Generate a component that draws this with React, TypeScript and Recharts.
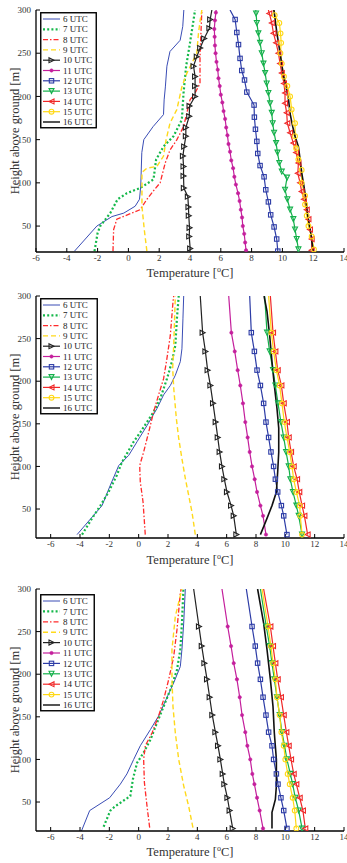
import React from 'react';
import { LineChart, Line, XAxis, YAxis, Legend, Label } from 'recharts';

type Pt = [number, number]; // [temperature °C, height above ground m]

const SERIF = '"Liberation Serif", "Times New Roman", "DejaVu Serif", serif';

// ---------- tick labels ----------
const X_TICKS = [-6, -4, -2, 0, 2, 4, 6, 8, 10, 12, 14];
const Y_TICKS = [50, 100, 150, 200, 250, 300];

// ---------- series names ----------
const SERIES_NAMES = ['6 UTC', '7 UTC', '8 UTC', '9 UTC', '10 UTC', '11 UTC', '12 UTC', '13 UTC', '14 UTC', '15 UTC', '16 UTC'];

// ---------- panel 1 ----------
const P1_06: Pt[] = [[-3.5, 21], [-2.05, 50], [-1.07, 61], [-0.3, 65], [0.44, 73], [0.72, 81], [0.8, 96], [0.87, 135], [1.0, 150], [1.6, 165], [2.28, 179], [2.32, 196], [2.4, 211], [2.5, 235], [2.7, 252], [3.36, 265], [3.53, 281], [3.6, 300]];
const P1_07: Pt[] = [[-2.2, 21], [-2.0, 42], [-1.83, 50], [-1.18, 65], [-0.7, 81], [-0.1, 88], [0.77, 94], [1.63, 104], [1.8, 127], [2.28, 142], [2.93, 154], [3.47, 173], [3.58, 204], [3.75, 235], [4.0, 262], [4.33, 300]];
const P1_08: Pt[] = [[-1.0, 21], [-0.96, 46], [-0.75, 58], [-0.2, 62], [0.77, 69], [1.2, 81], [1.68, 92], [2.06, 100], [2.39, 123], [2.7, 138], [3.15, 150], [3.58, 165], [4.0, 196], [4.33, 204], [4.65, 215], [4.65, 246], [4.77, 300]];
const P1_09: Pt[] = [[1.2, 21], [1.03, 46], [0.88, 73], [0.88, 112], [1.2, 117], [1.85, 119], [2.28, 131], [2.45, 150], [2.7, 169], [3.15, 185], [3.47, 211], [3.8, 227], [4.44, 250], [4.55, 273], [4.66, 288], [4.77, 300]];
const P1_10: Pt[] = [[4.01, 24], [3.95, 38], [3.97, 48], [3.92, 62], [3.9, 72], [3.86, 84], [3.6, 94], [3.58, 108], [3.58, 119], [3.54, 131], [3.62, 142], [3.73, 154], [3.73, 164], [3.95, 177], [3.97, 189], [4.33, 200], [4.33, 212], [4.33, 223], [4.23, 235], [4.44, 246], [4.66, 256], [4.92, 267], [5.26, 279], [5.31, 289], [5.42, 300]];
const P1_11: Pt[] = [[7.64, 22], [7.58, 31], [7.52, 41], [7.43, 50], [7.38, 60], [7.3, 69], [7.22, 79], [7.12, 88], [6.98, 98], [6.88, 107], [6.8, 117], [6.68, 126], [6.6, 136], [6.5, 145], [6.43, 155], [6.35, 164], [6.28, 174], [6.18, 183], [6.1, 193], [6.0, 202], [5.93, 212], [5.85, 221], [5.8, 231], [5.72, 240], [5.66, 250], [5.62, 259], [5.6, 269], [5.58, 278], [5.62, 288], [5.68, 297], [5.7, 300]];
const P1_12: Pt[] = [[9.7, 21], [9.63, 35], [9.46, 49], [9.24, 63], [9.09, 78], [8.92, 92], [8.81, 107], [8.55, 120], [8.4, 134], [8.34, 148], [8.25, 162], [8.18, 176], [8.16, 190], [7.69, 205], [7.54, 219], [7.36, 230], [7.25, 244], [7.15, 260], [7.04, 274], [6.93, 289], [6.6, 300]];
const P1_13: Pt[] = [[11.04, 23], [10.93, 35], [10.82, 46], [10.71, 58], [10.5, 69], [10.32, 81], [10.17, 92], [10.3, 106], [9.96, 113], [9.8, 123], [9.68, 135], [9.59, 146], [9.46, 158], [9.37, 169], [9.31, 181], [9.2, 192], [9.09, 204], [8.98, 215], [8.88, 227], [8.77, 238], [8.66, 250], [8.55, 262], [8.44, 273], [8.34, 285], [8.29, 296], [8.27, 300]];
const P1_14: Pt[] = [[11.9, 22], [11.9, 35], [11.79, 46], [11.69, 58], [11.58, 69], [11.4, 81], [11.25, 90], [11.15, 100], [11.0, 111], [11.04, 123], [10.89, 135], [10.71, 146], [10.5, 158], [10.32, 169], [10.28, 181], [10.17, 192], [10.17, 204], [10.1, 215], [9.96, 227], [9.85, 238], [9.74, 250], [9.59, 262], [9.42, 273], [9.31, 285], [9.15, 296], [9.09, 300]];
const P1_15: Pt[] = [[12.05, 23], [11.9, 38], [11.69, 50], [11.58, 62], [11.47, 75], [11.47, 85], [11.25, 100], [11.25, 115], [11.04, 127], [10.89, 140], [10.82, 154], [10.82, 169], [10.6, 185], [10.5, 200], [10.32, 212], [10.1, 223], [9.96, 238], [9.87, 250], [9.92, 262], [9.88, 273], [9.8, 285], [9.5, 294], [9.42, 300]];
const P1_16: Pt[] = [[12.0, 21], [11.84, 42], [11.62, 65], [11.53, 81], [11.4, 96], [11.25, 112], [11.15, 127], [11.04, 142], [10.82, 154], [10.67, 165], [10.5, 180], [10.4, 196], [10.25, 210], [10.06, 225], [9.85, 250], [9.63, 275], [9.45, 300]];

// ---------- panel 2 ----------
const P2_LEVELS = [20, 42, 54, 70, 85, 100, 117, 134, 152, 174, 195, 213, 235, 257, 300];
const P2_T10 = [6.66, 6.48, 6.3, 6.02, 5.84, 5.68, 5.52, 5.39, 5.25, 5.07, 4.89, 4.7, 4.55, 4.36, 4.2];
const P2_T11 = [8.68, 8.48, 8.3, 8.07, 7.91, 7.73, 7.57, 7.43, 7.27, 7.11, 6.93, 6.75, 6.55, 6.32, 6.14];
const P2_T12 = [10.11, 9.89, 9.73, 9.48, 9.32, 9.2, 9.02, 8.86, 8.68, 8.52, 8.3, 8.07, 7.89, 7.68, 7.57];
const P2_T13 = [11.14, 10.91, 10.75, 10.52, 10.34, 10.23, 10.05, 9.89, 9.7, 9.5, 9.32, 9.16, 8.93, 8.75, 8.59];
const P2_T14 = [11.52, 11.3, 11.14, 10.95, 10.8, 10.57, 10.39, 10.23, 10.11, 9.89, 9.73, 9.48, 9.32, 9.16, 8.98];
const P2_T15 = [11.14, 11.02, 10.98, 10.75, 10.57, 10.45, 10.3, 10.11, 9.93, 9.77, 9.61, 9.39, 9.2, 9.05, 8.86];
const P2_06: Pt[] = [[-4.2, 20], [-2.5, 54], [-1.93, 78], [-1.36, 101], [-0.68, 113], [-0.11, 129], [0.57, 148], [1.25, 168], [1.7, 184], [2.16, 195], [2.5, 207], [2.84, 223], [2.95, 238], [3.02, 274], [3.07, 300]];
const P2_07: Pt[] = [[-3.86, 20], [-3.18, 39], [-2.61, 54], [-2.05, 70], [-1.48, 90], [-1.14, 105], [-0.8, 115], [-0.34, 129], [0.11, 140], [0.57, 152], [1.02, 164], [1.48, 180], [1.93, 203], [2.27, 223], [2.5, 242], [2.61, 274], [2.73, 300]];
const P2_08: Pt[] = [[0.45, 20], [0.3, 58], [0.11, 82], [0.07, 101], [0.34, 117], [0.68, 140], [1.02, 164], [1.36, 184], [1.7, 203], [1.93, 227], [2.16, 254], [2.34, 293], [2.39, 300]];
const P2_09: Pt[] = [[3.86, 20], [3.64, 46], [3.41, 66], [3.18, 86], [2.95, 109], [2.73, 133], [2.57, 156], [2.39, 192], [2.32, 215], [2.39, 242], [2.5, 300]];
const P2_16: Pt[] = [[8.3, 20], [8.75, 39], [9.09, 54], [9.39, 70], [9.48, 94], [9.55, 117], [9.55, 145], [9.43, 168], [9.25, 195], [9.09, 223], [8.93, 254], [8.75, 282], [8.55, 300]];

// ---------- panel 3 ----------
const P3_LEVELS = [19, 40, 55, 71, 83, 100, 116, 132, 152, 173, 194, 213, 233, 256, 300];
const P3_T10 = [6.41, 6.2, 6.05, 5.84, 5.73, 5.57, 5.41, 5.23, 5.02, 4.84, 4.66, 4.48, 4.3, 4.11, 3.75];
const P3_T11 = [8.48, 8.25, 8.07, 7.89, 7.75, 7.61, 7.41, 7.27, 7.05, 6.89, 6.7, 6.48, 6.3, 6.07, 5.68];
const P3_T12 = [10.11, 9.89, 9.7, 9.5, 9.39, 9.2, 9.09, 8.86, 8.68, 8.48, 8.3, 8.11, 7.95, 7.73, 7.34];
const P3_T13 = [11.14, 10.91, 10.68, 10.5, 10.34, 10.11, 9.95, 9.77, 9.61, 9.43, 9.25, 9.09, 8.93, 8.7, 8.3];
const P3_T14 = [11.36, 11.2, 10.98, 10.75, 10.57, 10.39, 10.23, 10.07, 9.89, 9.7, 9.48, 9.32, 9.16, 8.98, 8.52];
const P3_T15 = [10.75, 10.64, 10.5, 10.3, 10.16, 10.0, 9.89, 9.73, 9.61, 9.43, 9.32, 9.16, 9.02, 8.82, 8.41];
const P3_06: Pt[] = [[-3.9, 16], [-3.34, 40], [-1.98, 55], [-1.25, 71], [-0.8, 83], [-0.34, 100], [0.11, 116], [0.8, 135], [1.36, 151], [1.86, 170], [2.39, 190], [2.84, 209], [2.95, 229], [3.07, 260], [3.18, 300]];
const P3_07: Pt[] = [[-2.39, 21], [-1.93, 40], [-1.6, 45], [-0.57, 57], [-0.39, 77], [-0.11, 96], [0.34, 108], [0.8, 123], [1.25, 143], [1.7, 162], [2.16, 182], [2.61, 205], [2.84, 229], [2.95, 260], [3.05, 300]];
const P3_08: Pt[] = [[0.75, 20], [0.57, 45], [0.39, 73], [0.34, 100], [0.45, 116], [0.91, 131], [1.36, 151], [1.7, 170], [2.05, 194], [2.39, 221], [2.61, 252], [2.84, 295], [2.9, 300]];
const P3_09: Pt[] = [[3.7, 20], [3.41, 45], [3.07, 69], [2.73, 100], [2.5, 131], [2.34, 162], [2.27, 194], [2.27, 229], [2.5, 268], [2.95, 300]];
const P3_16: Pt[] = [[9.09, 19], [9.09, 38], [9.2, 45], [9.32, 53], [9.39, 69], [9.39, 100], [9.25, 131], [9.16, 162], [8.98, 194], [8.75, 229], [8.52, 260], [8.11, 300]];

// ---------- styles (kept separate from data) ----------
type Mk = 'none' | 'triR' | 'dot' | 'square' | 'triD' | 'triL' | 'circle';
interface Sty { color: string; width: number; dash?: string; marker: Mk; }
const STYLES: Sty[] = [
  { color: '#3a4db5', width: 1, marker: 'none' },
  { color: '#14b84a', width: 2.2, dash: '2 2.2', marker: 'none' },
  { color: '#ff2b2b', width: 1.3, dash: '5 2 1.5 2', marker: 'none' },
  { color: '#ffd91a', width: 1.4, dash: '5 3', marker: 'none' },
  { color: '#222222', width: 1.2, marker: 'triR' },
  { color: '#c41f9c', width: 1.2, marker: 'dot' },
  { color: '#2d3ca6', width: 1.2, marker: 'square' },
  { color: '#13b04a', width: 1.2, marker: 'triD' },
  { color: '#f02828', width: 1.2, marker: 'triL' },
  { color: '#ffd814', width: 1.2, marker: 'circle' },
  { color: '#111111', width: 1.6, marker: 'none' },
];

const zip = (levels: number[], temps: number[]): Pt[] => temps.map((t, i) => [t, levels[i]]);
const rows = (pts: Pt[]) => pts.map(([t, h]) => ({ t, h }));

interface Panel {
  top: number;
  marginTop: number;
  xDomain: [number, number];
  yDomain: [number, number];
  legendTop: number;
  legendW: number;
  rowGap: number;
  xLabelDy: number;
  series: Pt[][];
}

const PANELS: Panel[] = [
  {
    top: 0, marginTop: 10, xDomain: [-6, 14], yDomain: [20, 300], legendTop: 12, legendW: 57, rowGap: 10.3, xLabelDy: 25,
    series: [P1_06, P1_07, P1_08, P1_09, P1_10, P1_11, P1_12, P1_13, P1_14, P1_15, P1_16],
  },
  {
    top: 285, marginTop: 11, xDomain: [-7, 14], yDomain: [16, 300], legendTop: 13, legendW: 58, rowGap: 10.3, xLabelDy: 26,
    series: [P2_06, P2_07, P2_08, P2_09, zip(P2_LEVELS, P2_T10), zip(P2_LEVELS, P2_T11), zip(P2_LEVELS, P2_T12), zip(P2_LEVELS, P2_T13), zip(P2_LEVELS, P2_T14), zip(P2_LEVELS, P2_T15), P2_16],
  },
  {
    top: 573, marginTop: 16, xDomain: [-7, 14], yDomain: [16, 300], legendTop: 21, legendW: 55, rowGap: 10.4, xLabelDy: 25,
    series: [P3_06, P3_07, P3_08, P3_09, zip(P3_LEVELS, P3_T10), zip(P3_LEVELS, P3_T11), zip(P3_LEVELS, P3_T12), zip(P3_LEVELS, P3_T13), zip(P3_LEVELS, P3_T14), zip(P3_LEVELS, P3_T15), P3_16],
  },
];

function MarkerShape({ kind, color, cx, cy }: { kind: Mk; color: string; cx: number; cy: number }) {
  const s = 2.5;
  switch (kind) {
    case 'triR':
      return <polygon points={`${cx - s},${cy - s} ${cx + s},${cy} ${cx - s},${cy + s}`} fill="none" stroke={color} strokeWidth={1.1} />;
    case 'triL':
      return <polygon points={`${cx + s},${cy - s} ${cx - s},${cy} ${cx + s},${cy + s}`} fill="none" stroke={color} strokeWidth={1.1} />;
    case 'triD':
      return <polygon points={`${cx - s},${cy - s} ${cx + s},${cy - s} ${cx},${cy + s}`} fill="none" stroke={color} strokeWidth={1.1} />;
    case 'square':
      return <rect x={cx - 2.2} y={cy - 2.2} width={4.4} height={4.4} fill="none" stroke={color} strokeWidth={1.1} />;
    case 'circle':
      return <circle cx={cx} cy={cy} r={2.4} fill="none" stroke={color} strokeWidth={1.1} />;
    case 'dot':
      return <circle cx={cx} cy={cy} r={1.7} fill={color} stroke={color} strokeWidth={0.5} />;
    default:
      return null;
  }
}

function makeDot(st: Sty) {
  if (st.marker === 'none') return false as const;
  return (p: any) => {
    const { cx, cy, payload, index } = p;
    if (cx == null || cy == null || payload.h >= 300) return <g key={`d${index}`} />;
    return (
      <g key={`d${index}`}>
        <MarkerShape kind={st.marker} color={st.color} cx={cx} cy={cy} />
      </g>
    );
  };
}

function LegendBox({ width, rowGap }: { width: number; rowGap: number }) {
  const h = 8 + rowGap * 10 + 5.5;
  return (
    <svg width={width} height={h} style={{ display: 'block' }}>
      <rect x={0.75} y={0.75} width={width - 1.5} height={h - 1.5} fill="#ffffff" stroke="#000" strokeWidth={1.4} />
      {SERIES_NAMES.map((name, i) => {
        const st = STYLES[i];
        const y = 7 + i * rowGap;
        return (
          <g key={name}>
            <line x1={3} x2={20} y1={y} y2={y} stroke={i === 10 ? '#555' : st.color} strokeWidth={i === 10 ? 2 : st.width} strokeDasharray={st.dash} />
            {st.marker !== 'none' && <MarkerShape kind={st.marker} color={st.color} cx={11.5} cy={y} />}
            <text x={23} y={y + 3.1} fontSize={9} fontFamily={SERIF} fill="#222">{name}</text>
          </g>
        );
      })}
    </svg>
  );
}

const NoTick = () => <g />;

function XLabel(dy: number) {
  return (props: any) => {
    const vb = props.viewBox;
    const cx = vb.x + vb.width / 2;
    return (
      <text x={cx} y={vb.y + dy} textAnchor="middle" fontSize={12.5} fontFamily={SERIF} fill="#333">
        Temperature [<tspan fontSize={8} dy={-5}>o</tspan><tspan dy={5}>C]</tspan>
      </text>
    );
  };
}

function YLabel(props: any) {
  const vb = props.viewBox;
  const x = 18.5;
  const y = vb.y + vb.height / 2;
  return (
    <text x={x} y={y} textAnchor="middle" fontSize={12.5} fontFamily={SERIF} fill="#333" transform={`rotate(-90 ${x} ${y})`}>
      Height above ground [m]
    </text>
  );
}

function PanelChart({ p }: { p: Panel }) {
  const axisLine = { stroke: '#000', strokeWidth: 1.3 };
  const tickLine = { stroke: '#000', strokeWidth: 1 };
  const tickStyle = { fontSize: 9, fill: '#333', fontFamily: SERIF };
  return (
    <div style={{ position: 'absolute', left: 0, top: p.top }}>
      <LineChart width={347} height={290} margin={{ top: p.marginTop, right: 3, bottom: 0, left: 0 }}>
        <XAxis type="number" dataKey="t" domain={p.xDomain} ticks={X_TICKS} interval={0} allowDataOverflow
          height={290 - p.marginTop - 242} tickSize={-4} tickMargin={7} axisLine={axisLine} tickLine={tickLine} tick={tickStyle}>
          <Label content={XLabel(p.xLabelDy)} />
        </XAxis>
        <XAxis xAxisId="top" orientation="top" type="number" domain={p.xDomain} ticks={X_TICKS} interval={0} allowDataOverflow
          height={0} tickSize={-4} axisLine={axisLine} tickLine={tickLine} tick={NoTick} />
        <YAxis type="number" dataKey="h" domain={p.yDomain} ticks={Y_TICKS} interval={0} allowDataOverflow
          width={36} tickSize={-4} tickMargin={9} axisLine={axisLine} tickLine={tickLine} tick={tickStyle}>
          <Label content={YLabel} />
        </YAxis>
        <YAxis yAxisId="right" orientation="right" type="number" domain={p.yDomain} ticks={Y_TICKS} interval={0} allowDataOverflow
          width={0} tickSize={-4} axisLine={axisLine} tickLine={tickLine} tick={NoTick} />
        {p.series.map((pts, i) => {
          const st = STYLES[i];
          return (
            <Line key={SERIES_NAMES[i]} name={SERIES_NAMES[i]} data={rows(pts)} dataKey="h" type="linear"
              stroke={st.color} strokeWidth={st.width} strokeDasharray={st.dash}
              dot={makeDot(st)} activeDot={false} isAnimationActive={false} legendType="line" />
          );
        })}
        <Legend layout="vertical" align="center" verticalAlign="middle"
          wrapperStyle={{ left: 40, top: p.legendTop, width: p.legendW, height: 8 + p.rowGap * 10 + 5.5, lineHeight: 0 }}
          content={() => <LegendBox width={p.legendW} rowGap={p.rowGap} />} />
      </LineChart>
    </div>
  );
}

export default function App() {
  return (
    <div style={{ position: 'absolute', left: 0, top: 0, width: 347, height: 863, background: '#fff', overflow: 'hidden' }}>
      {PANELS.map((p, i) => (
        <PanelChart key={i} p={p} />
      ))}
    </div>
  );
}
